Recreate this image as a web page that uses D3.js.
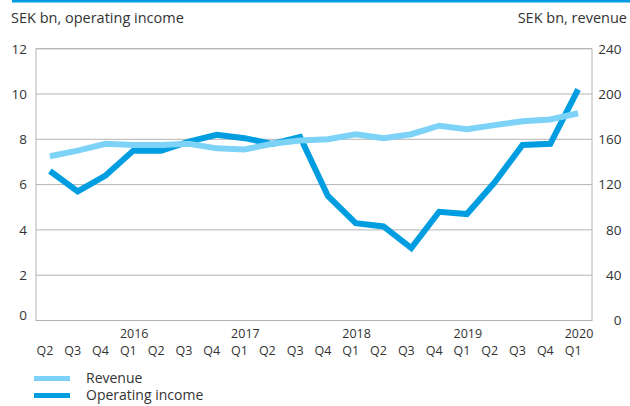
<!DOCTYPE html>
<html><head><meta charset="utf-8">
<script src="https://cdn.jsdelivr.net/npm/d3@7"></script>
<style>
body{margin:0;background:#fff;}
text{font-family:"Open Sans",sans-serif;fill:#333;}
</style></head>
<body><svg id="c" width="630" height="406"></svg>
<script>
const quarters = ["Q2","Q3","Q4","Q1","Q2","Q3","Q4","Q1","Q2","Q3","Q4","Q1","Q2","Q3","Q4","Q1","Q2","Q3","Q4","Q1"];
const years = ["2015","2015","2015","2016","2016","2016","2016","2017","2017","2017","2017","2018","2018","2018","2018","2019","2019","2019","2019","2020"];
const operatingIncome = [6.6,5.7,6.4,7.5,7.5,7.9,8.2,8.05,7.8,8.1,5.5,4.3,4.15,3.2,4.8,4.7,6.1,7.75,7.8,10.2];
const revenue = [145,150,156,155,155,156,152,151,156,159,160,164.5,161,164.5,172,169,172.5,176,177.5,183];
const leftTicks = [0,2,4,6,8,10,12];
const rightTicks = [0,40,80,120,160,200,240];
const legendItems = ["Revenue","Operating income"];

const svg = d3.select("#c");
const m = {l:36, r:592, t:48.7, b:320.5};
const idx = d3.range(quarters.length);
const x = d3.scaleBand().domain(idx).range([m.l, m.r]);
const yL = d3.scaleLinear().domain([0,12]).range([m.b, m.t]);
const yR = d3.scaleLinear().domain([0,240]).range([m.b, m.t]);
const cOp = "#009ee0", cRev = "#7dd3f7", grid = "#b4b4b4";

svg.append("rect").attr("x",12).attr("y",0).attr("width",618).attr("height",2.5).attr("fill",cOp);

// grid
const gGrid = svg.append("g");
gGrid.selectAll("line").data(leftTicks).join("line")
  .attr("x1",m.l).attr("x2",m.r).attr("y1",d=>yL(d)).attr("y2",d=>yL(d))
  .attr("stroke",grid).attr("stroke-width",1);
svg.append("rect").attr("x",m.l).attr("y",m.t).attr("width",m.r-m.l).attr("height",m.b-m.t)
  .attr("fill","none").attr("stroke",grid).attr("stroke-width",1);

// left axis
const axL = d3.axisLeft(yL).tickValues(leftTicks).tickSize(0).tickPadding(9);
const gL = svg.append("g").attr("transform",`translate(${m.l},0)`).call(axL);
gL.select(".domain").remove();
gL.selectAll("text").style("font-size","13.5px").style("font-family","Open Sans").attr("fill","#333")
  .attr("dy", d => d===0 ? "-0.1em" : "0.32em");

// right axis
const axR = d3.axisRight(yR).tickValues(rightTicks).tickSize(0).tickPadding(0);
const gR = svg.append("g").attr("transform",`translate(621.5,0)`).call(axR);
gR.select(".domain").remove();
gR.selectAll("text").style("font-size","13.5px").style("font-family","Open Sans").attr("fill","#333")
  .attr("text-anchor","end");

// x labels
const gX = svg.append("g");
gX.selectAll("text.q").data(idx).join("text").attr("class","q")
  .attr("x",i=>x(i)+0.5).attr("y",355).attr("font-size","12.5px").text(i=>quarters[i]);
gX.selectAll("text.y").data(idx.filter(i=>quarters[i]==="Q1")).join("text").attr("class","y")
  .attr("x",i=>x(i)+0.5).attr("y",338).attr("font-size","12.5px").text(i=>years[i]);

// lines
const cx = i => x(i)+x.bandwidth()/2;
const lineRev = d3.line().x((d,i)=>cx(i)).y(d=>yR(d));
const lineOp = d3.line().x((d,i)=>cx(i)).y(d=>yL(d));
svg.append("path").datum(operatingIncome).attr("d",lineOp).attr("fill","none")
  .attr("stroke",cOp).attr("stroke-width",6).attr("stroke-linejoin","miter");
svg.append("path").datum(revenue).attr("d",lineRev).attr("fill","none")
  .attr("stroke",cRev).attr("stroke-width",6).attr("stroke-linejoin","miter");

// titles
svg.append("text").attr("x",11).attr("y",23).attr("font-size","14.5px").text("SEK bn, operating income");
svg.append("text").attr("x",627).attr("y",23).attr("text-anchor","end").attr("font-size","14.5px").text("SEK bn, revenue");

// legend
const lg = svg.append("g");
const lc = [cRev, cOp];
lg.selectAll("line").data(legendItems).join("line")
  .attr("x1",34).attr("x2",70).attr("y1",(d,i)=>378.5+i*17).attr("y2",(d,i)=>378.5+i*17)
  .attr("stroke",(d,i)=>lc[i]).attr("stroke-width",5);
lg.selectAll("text").data(legendItems).join("text")
  .attr("x",86).attr("y",(d,i)=>382.5+i*17.5).attr("font-size","14px").text(d=>d);
</script></body></html>
